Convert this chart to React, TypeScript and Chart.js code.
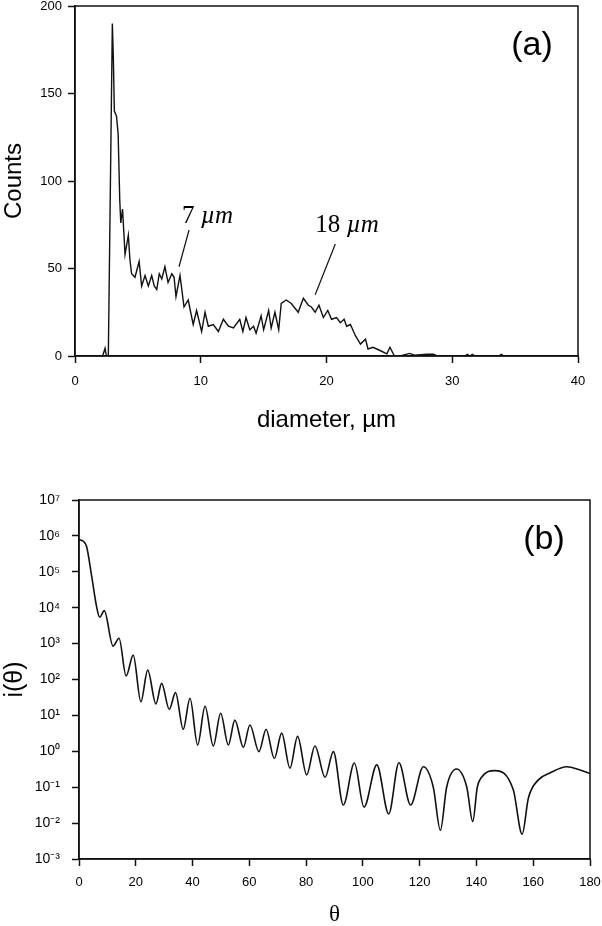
import React, { useEffect, useRef } from 'react';
import { Chart, registerables } from 'chart.js';

Chart.register(...registerables);

const SANS = '"Liberation Sans", Arial, Helvetica, sans-serif';
const SERIF = '"Liberation Serif", "Times New Roman", Times, serif';
const INK = '#111111';

// ---------- Panel (a): size distribution ----------
const diameterUm = [
  2.1, 2.2, 2.39, 2.5, 2.65, 2.97, 3.05, 3.13, 3.3, 3.43, 3.56, 3.64, 3.78, 3.98,
  4.24, 4.37, 4.5, 4.77, 5.1, 5.3, 5.57, 5.83, 6.1, 6.3, 6.5, 6.7, 6.9, 7.15, 7.4,
  7.7, 7.88, 8.03, 8.35, 8.67, 9.0, 9.4, 9.67, 10.07, 10.34, 10.6, 11.0, 11.4,
  11.8, 12.2, 12.6, 13.1, 13.35, 13.6, 13.9, 14.2, 14.4, 14.8, 15.0, 15.4, 15.6,
  15.9, 16.2, 16.4, 16.8, 17.2, 17.75, 18.16, 18.56, 18.8, 19.1, 19.4, 19.75,
  20.1, 20.4, 20.8, 21.1, 21.4, 21.6, 21.9, 22.3, 22.7, 23.1, 23.3, 23.7, 24.3,
  24.8, 25.05, 25.4, 26.0, 26.6, 27.0, 28.0, 28.5, 28.8, 31.0, 31.2, 31.4, 31.6,
  31.8, 33.7, 33.9, 34.1, 40,
];
const counts = [
  0, 0, 4.4, 0, 0, 190, 170, 140, 137, 127, 89, 76, 84, 58,
  69, 55, 47, 45, 54, 40, 46, 40, 46, 40, 38, 47, 44, 51, 42,
  47, 45, 34, 46, 28, 32, 18, 26, 14, 25, 17, 18, 14,
  21, 17, 16, 21, 14, 22, 15, 17, 13, 23, 15, 26, 16,
  25, 15, 30, 32, 30, 25, 33, 29, 28, 25, 29, 22,
  26, 21, 22, 19, 21, 17, 18, 11.6, 6.8, 9.6, 4, 5, 3,
  1.2, 5, 0, 0.3, 1.5, 0.5, 1, 1, 0, 0, 1, 0, 1,
  0, 0, 1, 0, 0,
];
const diameterTicks = [0, 10, 20, 30, 40];
const countTicks = [0, 50, 100, 150, 200];

// peak notes: label number, label anchor (data units), leader line ends (data units)
const noteNumbers = ['7', '18'];
const noteUnit = 'µm';
const noteTextAt = [[8.5, 76], [19.1, 71]];
const noteLineFrom = [[9.07, 72], [20.7, 64]];
const noteLineTo = [[8.27, 51], [19.1, 35]];

// ---------- Panel (b): scattering intensity ----------
const thetaDeg = [
  0, 1.5, 2.7, 4.5, 6.2, 7.3, 8.9, 12.0, 14.1, 16.6, 19.1, 21.8, 24.2, 27.1, 29.1,
  31.8, 34.0, 36.7, 39.1, 41.8, 44.4, 47.3, 49.9, 52.6, 54.9, 57.9, 60.2, 63.4,
  65.9, 68.8, 71.4, 74.3, 77.0, 80.2, 83.1, 86.7, 89.6, 93.1, 97.0, 100.4, 104.9,
  109.1, 112.7, 116.8, 121.3, 124.8, 127.3, 129.5, 133.0, 136.6, 138.7, 140.3,
  141.8, 146.5, 153.0, 156.1, 158.3, 161.8, 165.9, 171.8, 176.5, 180,
];
const intensity = [
  7.9e5, 7.1e5, 5.0e5, 7.2e4, 1.07e4, 5.4e3, 8.3e3, 850, 1410, 126, 479, 24, 182, 21, 78,
  14.8, 43, 4.1, 30, 1.5, 18, 1.41, 11.5, 1.5, 7.4, 1.29, 5.4, 0.98,
  4.1, 0.63, 3.2, 0.34, 2.6, 0.22, 1.41, 0.19, 0.98, 0.032, 0.47, 0.028, 0.42,
  0.018, 0.48, 0.032, 0.37, 0.1, 0.0063, 0.1, 0.32, 0.1, 0.011, 0.1,
  0.19, 0.29, 0.083, 0.0049, 0.05, 0.16, 0.25, 0.37, 0.3, 0.24,
];
const thetaTicks = [0, 20, 40, 60, 80, 100, 120, 140, 160, 180];
const intensityTicks = [1e-3, 1e-2, 1e-1, 1, 1e1, 1e2, 1e3, 1e4, 1e5, 1e6, 1e7];

const SUP: Record<string, string> = {
  '-': '⁻', '0': '⁰', '1': '¹', '2': '²', '3': '³', '4': '⁴', '5': '⁵', '6': '⁶', '7': '⁷', '8': '⁸', '9': '⁹',
};
const powerLabel = (v: number) => {
  const e = String(Math.round(Math.log10(v)));
  return '10' + e.split('').map((c) => SUP[c] || c).join('');
};

const framePlugin = (panel: string) => ({
  id: 'frame_' + panel,
  afterDraw(chart: any) {
    const { ctx, chartArea } = chart;
    const { left, top, right, bottom } = chartArea;
    ctx.save();
    ctx.strokeStyle = INK;
    ctx.lineWidth = 1.5;
    ctx.strokeRect(left, top, right - left, bottom - top);
    ctx.fillStyle = '#000';
    ctx.font = `34px ${SANS}`;
    ctx.textAlign = 'center';
    ctx.textBaseline = 'middle';
    ctx.fillText(panel, right - 46, top + 40);
    ctx.restore();
  },
});

const notesPlugin = {
  id: 'peakNotes',
  afterDraw(chart: any) {
    const { ctx } = chart;
    const xs = chart.scales.x;
    const ys = chart.scales.y;
    ctx.save();
    ctx.fillStyle = '#000';
    ctx.strokeStyle = INK;
    ctx.lineWidth = 1.2;
    ctx.textBaseline = 'alphabetic';
    ctx.textAlign = 'left';
    noteNumbers.forEach((num, i) => {
      const tx = xs.getPixelForValue(noteTextAt[i][0]);
      const ty = ys.getPixelForValue(noteTextAt[i][1]);
      ctx.font = `25px ${SERIF}`;
      const lead = num + ' ';
      ctx.fillText(lead, tx, ty);
      const w = ctx.measureText(lead).width;
      ctx.font = `italic 25px ${SERIF}`;
      ctx.fillText(noteUnit, tx + w, ty);
      ctx.beginPath();
      ctx.moveTo(xs.getPixelForValue(noteLineFrom[i][0]), ys.getPixelForValue(noteLineFrom[i][1]));
      ctx.lineTo(xs.getPixelForValue(noteLineTo[i][0]), ys.getPixelForValue(noteLineTo[i][1]));
      ctx.stroke();
    });
    ctx.restore();
  },
};

const axisGrid = {
  display: true,
  drawOnChartArea: false,
  drawTicks: true,
  tickLength: 7,
  tickWidth: 1.5,
  tickColor: INK,
  color: INK,
};
const axisBorder = { display: true, color: INK, width: 1.5 };

function PanelA() {
  const ref = useRef<HTMLCanvasElement | null>(null);
  useEffect(() => {
    if (!ref.current) return;
    const chart = new Chart(ref.current, {
      type: 'line',
      data: {
        datasets: [
          {
            data: diameterUm.map((d, i) => ({ x: d, y: counts[i] })),
            borderColor: INK,
            borderWidth: 1.4,
            pointRadius: 0,
            tension: 0,
            fill: false,
          },
        ],
      },
      options: {
        animation: false,
        responsive: false,
        devicePixelRatio: 1,
        layout: { padding: { top: 6, right: 24, left: 0, bottom: 0 } },
        plugins: { legend: { display: false }, tooltip: { enabled: false } },
        scales: {
          x: {
            type: 'linear',
            min: 0,
            max: 40,
            afterBuildTicks: (s: any) => {
              s.ticks = diameterTicks.map((v) => ({ value: v }));
            },
            afterFit: (s: any) => {
              s.height = 84;
              s.paddingLeft = 0;
              s.paddingRight = 0;
            },
            grid: axisGrid,
            border: axisBorder,
            ticks: { color: '#000', font: { family: SANS, size: 13 }, padding: 11, maxRotation: 0 },
            title: {
              display: true,
              text: 'diameter, µm',
              color: '#000',
              font: { family: SANS, size: 24, lineHeight: 1.2 },
              padding: { top: 0, bottom: 5 },
            },
          },
          y: {
            type: 'linear',
            min: 0,
            max: 200,
            afterBuildTicks: (s: any) => {
              s.ticks = countTicks.map((v) => ({ value: v }));
            },
            afterFit: (s: any) => {
              s.width = 75;
              s.paddingTop = 0;
              s.paddingBottom = 0;
            },
            grid: axisGrid,
            border: axisBorder,
            ticks: { color: '#000', font: { family: SANS, size: 13 }, padding: 6 },
            title: {
              display: true,
              text: 'Counts',
              color: '#000',
              font: { family: SANS, size: 24, lineHeight: 1.2 },
              padding: { top: 0, bottom: 0 },
            },
          },
        },
      },
      plugins: [framePlugin('(a)'), notesPlugin],
    } as any);
    return () => chart.destroy();
  }, []);
  return <canvas ref={ref} width={602} height={440} style={{ display: 'block' }} />;
}

function PanelB() {
  const ref = useRef<HTMLCanvasElement | null>(null);
  useEffect(() => {
    if (!ref.current) return;
    const chart = new Chart(ref.current, {
      type: 'line',
      data: {
        datasets: [
          {
            data: thetaDeg.map((t, i) => ({ x: t, y: intensity[i] })),
            borderColor: INK,
            borderWidth: 1.6,
            pointRadius: 0,
            cubicInterpolationMode: 'monotone',
            fill: false,
          },
        ],
      },
      options: {
        animation: false,
        responsive: false,
        devicePixelRatio: 1,
        layout: { padding: { top: 60, right: 12, left: 0, bottom: 0 } },
        plugins: { legend: { display: false }, tooltip: { enabled: false } },
        scales: {
          x: {
            type: 'linear',
            min: 0,
            max: 180,
            afterBuildTicks: (s: any) => {
              s.ticks = thetaTicks.map((v) => ({ value: v }));
            },
            afterFit: (s: any) => {
              s.height = 67;
              s.paddingLeft = 0;
              s.paddingRight = 0;
            },
            grid: axisGrid,
            border: axisBorder,
            ticks: { color: '#000', font: { family: SANS, size: 13 }, padding: 9, maxRotation: 0 },
            title: {
              display: true,
              text: 'θ',
              color: '#000',
              font: { family: SERIF, size: 23, lineHeight: 1.0 },
              padding: { top: 0, bottom: 0 },
            },
          },
          y: {
            type: 'logarithmic',
            min: 1e-3,
            max: 1e7,
            afterBuildTicks: (s: any) => {
              s.ticks = intensityTicks.map((v) => ({ value: v }));
            },
            afterFit: (s: any) => {
              s.width = 79;
              s.paddingTop = 0;
              s.paddingBottom = 0;
            },
            grid: axisGrid,
            border: axisBorder,
            ticks: {
              color: '#000',
              font: { family: SANS, size: 14 },
              padding: 12,
              callback: (v: any) => powerLabel(Number(v)),
            },
            title: {
              display: true,
              text: 'i(θ)',
              color: '#000',
              font: { family: SANS, size: 25, lineHeight: 1.2 },
              padding: { top: 0, bottom: 0 },
            },
          },
        },
      },
      plugins: [framePlugin('(b)')],
    } as any);
    return () => chart.destroy();
  }, []);
  return <canvas ref={ref} width={602} height={486} style={{ display: 'block' }} />;
}

export default function App() {
  return (
    <div
      style={{
        position: 'absolute',
        left: 0,
        top: 0,
        width: 602,
        height: 926,
        background: '#ffffff',
      }}
    >
      <PanelA />
      <PanelB />
    </div>
  );
}
